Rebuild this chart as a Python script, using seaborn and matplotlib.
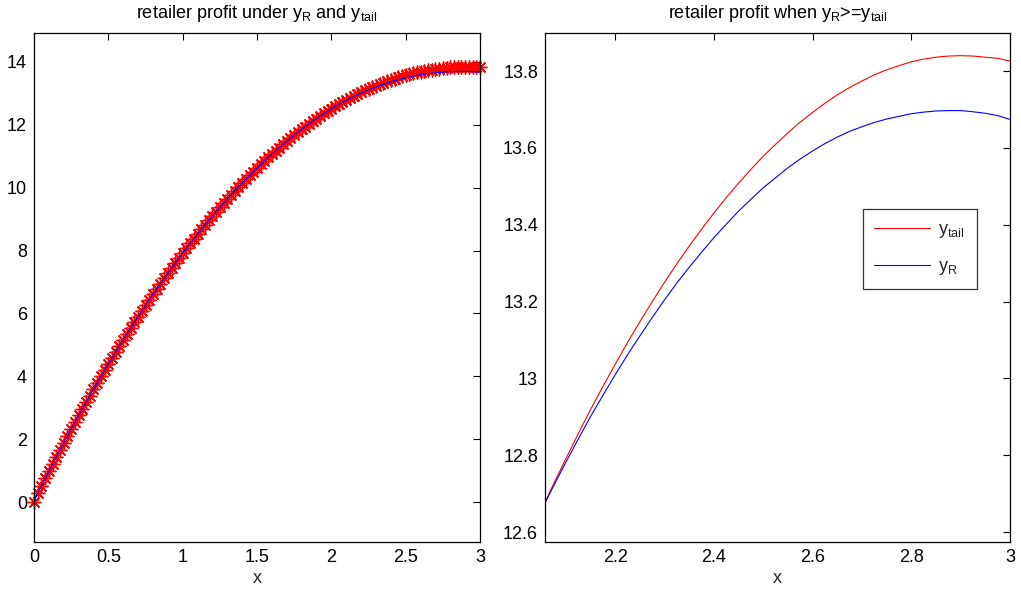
import numpy as np
import pandas as pd
import matplotlib
matplotlib.use("Agg")
import matplotlib.pyplot as plt
import seaborn as sns
from matplotlib.ticker import FormatStrFormatter

sns.set_style("white")
plt.rcParams['font.family'] = ['Liberation Sans', 'DejaVu Sans']
plt.rcParams['mathtext.fontset'] = 'custom'
plt.rcParams['mathtext.rm'] = 'Liberation Sans'
plt.rcParams['mathtext.it'] = 'Liberation Sans'

# ---- data ----
x_step = 0.025
x_vals = np.round(np.arange(121) * x_step, 3)  # 0 .. 3

y_tail = [
    0.000, 0.284, 0.519, 0.752, 0.982, 1.211, 1.438, 1.662, 1.884, 2.105,
    2.323, 2.539, 2.754, 2.966, 3.176, 3.384, 3.590, 3.794, 3.996, 4.196,
    4.394, 4.589, 4.783, 4.975, 5.164, 5.352, 5.538, 5.721, 5.902, 6.082,
    6.259, 6.434, 6.608, 6.779, 6.948, 7.115, 7.280, 7.443, 7.604, 7.763,
    7.920, 8.074, 8.227, 8.378, 8.526, 8.673, 8.818, 8.960, 9.100, 9.239,
    9.375, 9.509, 9.642, 9.772, 9.900, 10.026, 10.150, 10.272, 10.392, 10.510,
    10.626, 10.739, 10.851, 10.961, 11.068, 11.174, 11.278, 11.379, 11.478, 11.576,
    11.671, 11.764, 11.856, 11.945, 12.032, 12.117, 12.200, 12.281, 12.360, 12.437,
    12.512, 12.584, 12.655, 12.724, 12.790, 12.855, 12.918, 12.978, 13.036, 13.093,
    13.147, 13.199, 13.250, 13.298, 13.344, 13.388, 13.430, 13.470, 13.508, 13.544,
    13.578, 13.609, 13.639, 13.667, 13.692, 13.716, 13.738, 13.757, 13.774, 13.790,
    13.803, 13.814, 13.824, 13.831, 13.836, 13.839, 13.840, 13.839, 13.836, 13.833,
    13.826,
]

# y_R coincides with y_tail up to x = 2.05, then stays below it
y_R_tail_part = [
    12.719, 12.781, 12.841, 12.900, 12.955, 13.009, 13.061, 13.110, 13.158, 13.204,
    13.248, 13.289, 13.328, 13.366, 13.401, 13.435, 13.466, 13.496, 13.522, 13.548,
    13.571, 13.592, 13.611, 13.628, 13.643, 13.655, 13.666, 13.675, 13.682, 13.689,
    13.693, 13.696, 13.697, 13.697, 13.694, 13.690, 13.684, 13.674,
]
y_R = y_tail[:121 - len(y_R_tail_part)] + y_R_tail_part

df = pd.DataFrame({"x": x_vals, "y_tail": y_tail, "y_R": y_R})

left_xticks = [0, 0.5, 1, 1.5, 2, 2.5, 3]
left_yticks = [0, 2, 4, 6, 8, 10, 12, 14]
right_xticks = [2.2, 2.4, 2.6, 2.8, 3]
right_yticks = [12.6, 12.8, 13.0, 13.2, 13.4, 13.6, 13.8]

title_left = r'retailer profit under y$_{\mathrm{R}}$ and y$_{\mathrm{tail}}$'
title_right = r'retailer profit when y$_{\mathrm{R}}$>=y$_{\mathrm{tail}}$'
label_tail = r'y$_{\mathrm{tail}}$'
label_R = r'y$_{\mathrm{R}}$'

# ---- figure ----
W, H = 1021, 594
fig = plt.figure(figsize=(W / 100, H / 100), dpi=100)
ax1 = fig.add_axes([34 / W, 52 / H, 446 / W, 509 / H])
ax2 = fig.add_axes([545 / W, 52 / H, 465 / W, 509 / H])

FS = 13

# left panel
sns.lineplot(data=df, x="x", y="y_tail", ax=ax1, estimator=None, sort=False,
             color="red", linestyle="none", marker=(8, 2, 0), markersize=10,
             markeredgecolor="red", markeredgewidth=1.0, clip_on=False)
sns.lineplot(data=df, x="x", y="y_R", ax=ax1, estimator=None, sort=False,
             color="blue", linewidth=0.8)
ax1.set_xlim(0, 3)
ax1.set_ylim(-1.27, 14.92)
ax1.set_xticks(left_xticks)
ax1.set_yticks(left_yticks)
ax1.xaxis.set_major_formatter(FormatStrFormatter('%g'))
ax1.set_title(title_left, fontsize=FS, pad=11, color='black')

# right panel
sns.lineplot(data=df, x="x", y="y_tail", ax=ax2, estimator=None, sort=False,
             color="red", linewidth=0.8, label=label_tail)
sns.lineplot(data=df, x="x", y="y_R", ax=ax2, estimator=None, sort=False,
             color="blue", linewidth=0.8, label=label_R)
ax2.set_xlim(2.058, 3)
ax2.set_ylim(12.574, 13.899)
ax2.set_xticks(right_xticks)
ax2.set_yticks(right_yticks)
ax2.xaxis.set_major_formatter(FormatStrFormatter('%g'))
ax2.yaxis.set_major_formatter(FormatStrFormatter('%g'))
ax2.set_title(title_right, fontsize=FS, pad=11, color='black')

leg = ax2.legend(loc='upper left', bbox_to_anchor=(0.683, 0.6536), borderaxespad=0,
                 fancybox=False, frameon=True, fontsize=FS, handlelength=3.1,
                 handletextpad=0.45, borderpad=0.65, labelspacing=1.0)
leg.get_frame().set_edgecolor('black')
leg.get_frame().set_linewidth(0.9)

for ax in (ax1, ax2):
    ax.set_xlabel('x', fontsize=FS, labelpad=3)
    ax.set_ylabel('')
    ax.tick_params(direction='in', top=True, right=True, length=5, width=0.8,
                   labelsize=FS, pad=5, colors='black')
    for s in ax.spines.values():
        s.set_visible(True)
        s.set_color('black')
        s.set_linewidth(0.9)
    ax.grid(False)

fig.savefig("out.png", dpi=100)
